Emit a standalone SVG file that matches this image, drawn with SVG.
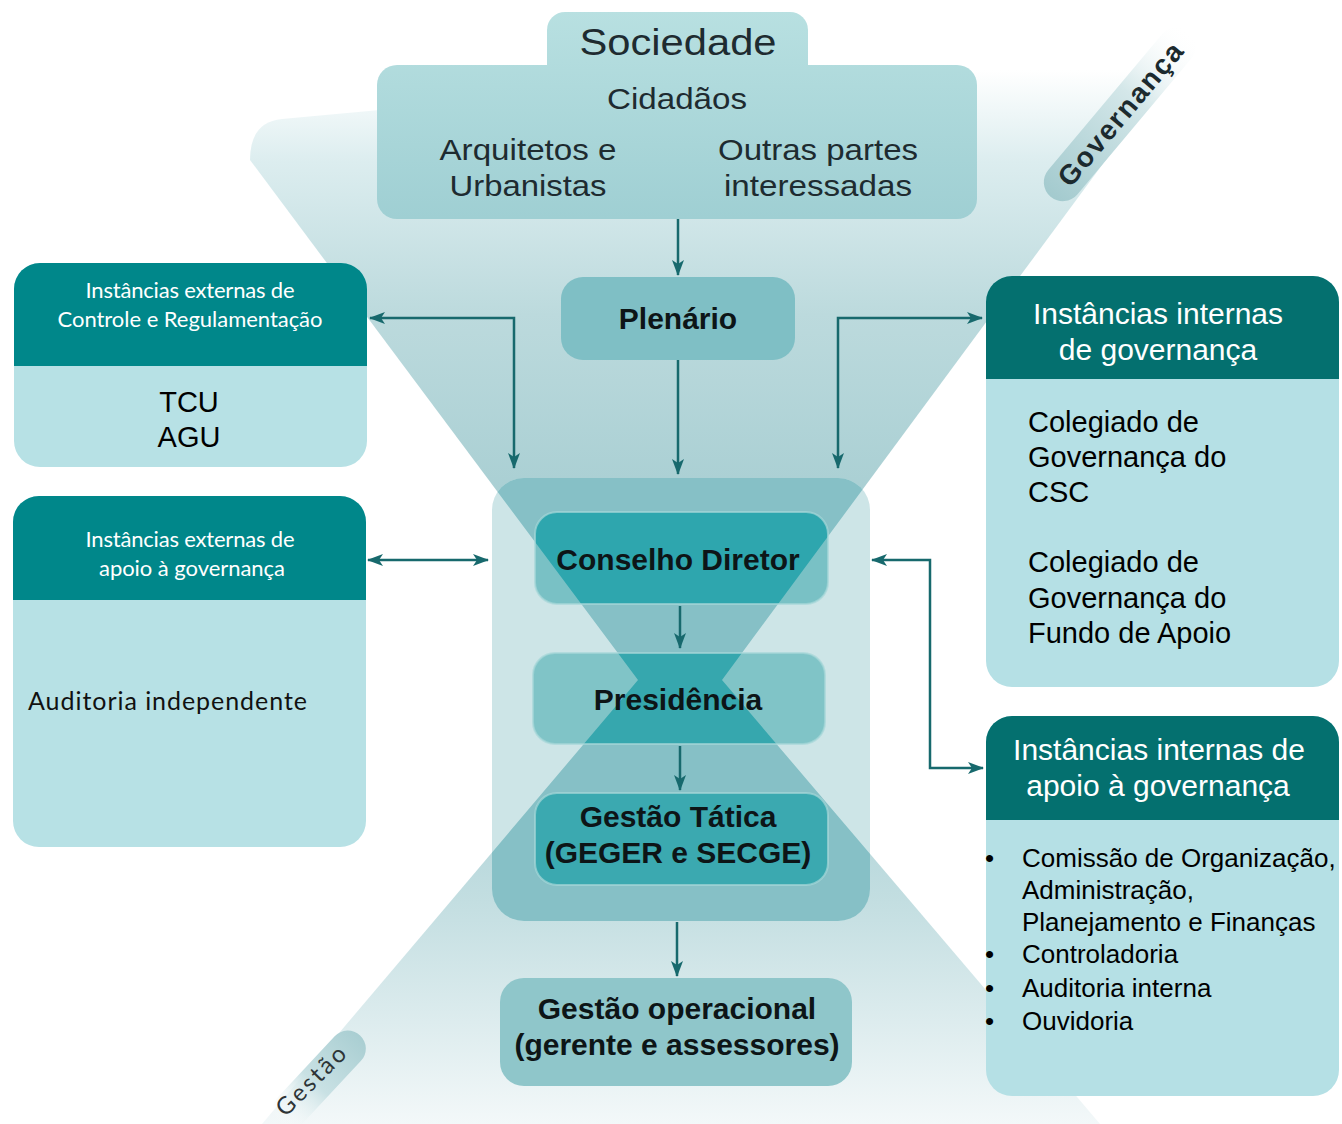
<svg xmlns="http://www.w3.org/2000/svg" width="1342" height="1124" viewBox="0 0 1342 1124">
<defs>
<style>
.hdrL{font-family:Lato,'Open Sans',sans-serif;font-size:22px;fill:#ffffff;text-anchor:middle}
.hdrR{font-family:'Liberation Sans',Arial,sans-serif;font-size:30px;fill:#ffffff;text-anchor:middle}
.body{font-family:'Liberation Sans',Arial,sans-serif;font-size:29px;fill:#000000}
.bul{font-family:'Liberation Sans',Arial,sans-serif;font-size:26px;fill:#000000}
.soc{font-family:'Liberation Sans',Arial,sans-serif;fill:#1e2b30;text-anchor:middle}
.bold{font-family:'Liberation Sans',Arial,sans-serif;font-weight:bold;font-size:30px;fill:#0d1517;text-anchor:middle}
.conn{fill:none;stroke:#17696d;stroke-width:2.5}
.inner{stroke:#a6d7d9;stroke-width:2;stroke-opacity:0.7}
</style>
<linearGradient id="gTop" gradientUnits="userSpaceOnUse" x1="0" y1="70" x2="0" y2="680">
<stop offset="0" stop-color="#ffffff"/>
<stop offset="0.15" stop-color="#dcedef"/>
<stop offset="0.4" stop-color="#bcdadd"/>
<stop offset="0.7" stop-color="#a9cfd3"/>
<stop offset="1" stop-color="#a2cbd0"/>
</linearGradient>
<linearGradient id="gBot" gradientUnits="userSpaceOnUse" x1="0" y1="680" x2="0" y2="1124">
<stop offset="0" stop-color="#9ccacf"/>
<stop offset="0.5" stop-color="#c3dee1"/>
<stop offset="1" stop-color="#f3f8f9"/>
</linearGradient>
<linearGradient id="gSoc" gradientUnits="userSpaceOnUse" x1="0" y1="12" x2="0" y2="219">
<stop offset="0" stop-color="#b8e0e1"/>
<stop offset="1" stop-color="#9fcfd3"/>
</linearGradient>
<linearGradient id="gGov" x1="0" y1="0" x2="1" y2="0">
<stop offset="0" stop-color="#a3cace"/>
<stop offset="0.6" stop-color="#d4e7e9"/>
<stop offset="1" stop-color="#ffffff" stop-opacity="0"/>
</linearGradient>
<linearGradient id="gGes" x1="0" y1="0" x2="1" y2="0">
<stop offset="0" stop-color="#ffffff" stop-opacity="0"/>
<stop offset="0.45" stop-color="#c9e1e4"/>
<stop offset="1" stop-color="#a9ced2"/>
</linearGradient>
<clipPath id="hg">
<path d="M250,160 Q250,122 282,119 L1198,35 L722,680 L638,680 Z"/>
<path d="M638,680 L722,680 L1100,1124 L262,1124 Z"/>
</clipPath>
<marker id="ah" viewBox="0 0 16 12" refX="15" refY="6" markerWidth="16" markerHeight="12" markerUnits="userSpaceOnUse" orient="auto-start-reverse">
<path d="M0,0 L16,6 L0,12 L4,6 Z" fill="#17696d"/>
</marker>
</defs>

<rect width="1342" height="1124" fill="#ffffff"/>

<g id="background">
<path id="funnel-top" d="M250,160 Q250,122 282,119 L1198,35 L722,680 L638,680 Z" fill="url(#gTop)"/>
<path id="funnel-bottom" d="M638,680 L722,680 L1100,1124 L262,1124 Z" fill="url(#gBot)"/>
</g>

<g id="label-governanca">
<g transform="translate(1120,114) rotate(-50)">
<rect x="-108" y="-19" width="216" height="38" rx="19" fill="url(#gGov)"/>
<text x="0" y="10" font-family="'Liberation Sans',Arial,sans-serif" font-weight="bold" font-size="28" fill="#1c2a2e" text-anchor="middle" textLength="178">Governança</text>
</g>
</g>

<g id="label-gestao">
<g transform="translate(326,1072) rotate(-47)">
<rect x="-70" y="-18" width="120" height="36" rx="18" fill="url(#gGes)"/>
</g>
<g transform="translate(311,1081) rotate(-45)">
<text x="0" y="8" font-family="Lato,'Open Sans',sans-serif" font-size="24" fill="#2d3436" text-anchor="middle" textLength="88">Gestão</text>
</g>
</g>

<g id="sociedade">
<rect x="547" y="12" width="261" height="80" rx="18" fill="url(#gSoc)"/>
<rect x="377" y="65" width="600" height="154" rx="20" fill="url(#gSoc)"/>
<text class="soc" x="678" y="55" font-size="36" textLength="197" lengthAdjust="spacingAndGlyphs">Sociedade</text>
<text class="soc" x="677" y="109" font-size="29" textLength="140" lengthAdjust="spacingAndGlyphs">Cidadãos</text>
<text class="soc" x="528" y="160" font-size="30" textLength="177" lengthAdjust="spacingAndGlyphs">Arquitetos e</text>
<text class="soc" x="528" y="196" font-size="30" textLength="157" lengthAdjust="spacingAndGlyphs">Urbanistas</text>
<text class="soc" x="818" y="160" font-size="30" textLength="200" lengthAdjust="spacingAndGlyphs">Outras partes</text>
<text class="soc" x="818" y="196" font-size="30" textLength="188" lengthAdjust="spacingAndGlyphs">interessadas</text>
</g>

<g id="plenario">
<rect x="561" y="277" width="234" height="83" rx="22" fill="#7fbfc5"/>
<text class="bold" x="678" y="329">Plenário</text>
</g>

<g id="bloco-central">
<rect x="492" y="478" width="378" height="443" rx="32" fill="#cde5e7"/>
<rect x="492" y="478" width="378" height="443" rx="32" fill="#86c0c6" clip-path="url(#hg)"/>
</g>

<g id="conselho-diretor">
<rect x="535" y="512" width="293" height="92" rx="22" fill="#79c1c5"/>
<rect x="535" y="512" width="293" height="92" rx="22" fill="#2ea6ae" clip-path="url(#hg)"/>
<rect class="inner" x="535" y="512" width="293" height="92" rx="22" fill="none"/>
<text class="bold" x="678" y="570">Conselho Diretor</text>
</g>

<g id="presidencia">
<rect x="533" y="653" width="292" height="91" rx="22" fill="#80c4c7"/>
<rect x="533" y="653" width="292" height="91" rx="22" fill="#36a7ae" clip-path="url(#hg)"/>
<rect class="inner" x="533" y="653" width="292" height="91" rx="22" fill="none"/>
<text class="bold" x="678" y="710">Presidência</text>
</g>

<g id="gestao-tatica">
<rect x="535" y="793" width="293" height="92" rx="22" fill="#5db5bb"/>
<rect x="535" y="793" width="293" height="92" rx="22" fill="#3ba9b0" clip-path="url(#hg)"/>
<rect class="inner" x="535" y="793" width="293" height="92" rx="22" fill="none"/>
<text class="bold" x="678" y="827">Gestão Tática</text>
<text class="bold" x="678" y="863">(GEGER e SECGE)</text>
</g>

<g id="gestao-operacional">
<rect x="500" y="978" width="352" height="108" rx="24" fill="#8fc6ca"/>
<text class="bold" x="677" y="1019">Gestão operacional</text>
<text class="bold" x="677" y="1055">(gerente e assessores)</text>
</g>

<g id="ext-controle">
<rect x="14" y="263" width="353" height="204" rx="26" fill="#b7e1e5"/>
<path d="M14,289 A26,26 0 0 1 40,263 H341 A26,26 0 0 1 367,289 V366 H14 Z" fill="#00878a"/>
<text class="hdrL" x="190" y="298" textLength="209">Instâncias externas de</text>
<text class="hdrL" x="190" y="327" textLength="265">Controle e Regulamentação</text>
<text class="body" x="189" y="412" font-size="30" text-anchor="middle">TCU</text>
<text class="body" x="189" y="447" font-size="30" text-anchor="middle">AGU</text>
</g>

<g id="ext-apoio">
<rect x="13" y="496" width="353" height="351" rx="26" fill="#b7e1e5"/>
<path d="M13,522 A26,26 0 0 1 39,496 H340 A26,26 0 0 1 366,522 V600 H13 Z" fill="#00878a"/>
<text class="hdrL" x="190" y="547" textLength="209">Instâncias externas de</text>
<text class="hdrL" x="192" y="576" textLength="186">apoio à governança</text>
<text x="28" y="710" font-family="Lato,'Open Sans',sans-serif" font-size="25" fill="#111111" textLength="279">Auditoria independente</text>
</g>

<g id="int-governanca">
<rect x="986" y="276" width="353" height="411" rx="26" fill="#b5e0e5"/>
<path d="M986,302 A26,26 0 0 1 1012,276 H1313 A26,26 0 0 1 1339,302 V379 H986 Z" fill="#04706f"/>
<text class="hdrR" x="1158" y="324">Instâncias internas</text>
<text class="hdrR" x="1158" y="360">de governança</text>
<text class="body" x="1028" y="432">Colegiado de</text>
<text class="body" x="1028" y="467">Governança do</text>
<text class="body" x="1028" y="502">CSC</text>
<text class="body" x="1028" y="572">Colegiado de</text>
<text class="body" x="1028" y="608">Governança do</text>
<text class="body" x="1028" y="643">Fundo de Apoio</text>
</g>

<g id="int-apoio">
<rect x="986" y="716" width="353" height="380" rx="26" fill="#b5e0e5"/>
<path d="M986,742 A26,26 0 0 1 1012,716 H1313 A26,26 0 0 1 1339,742 V820 H986 Z" fill="#04706f"/>
<text class="hdrR" x="1159" y="760">Instâncias internas de</text>
<text class="hdrR" x="1158" y="796">apoio à governança</text>
<text class="bul" x="985" y="867">•</text>
<text class="bul" x="1022" y="867">Comissão de Organização,</text>
<text class="bul" x="1022" y="899">Administração,</text>
<text class="bul" x="1022" y="931">Planejamento e Finanças</text>
<text class="bul" x="985" y="963">•</text>
<text class="bul" x="1022" y="963">Controladoria</text>
<text class="bul" x="985" y="997">•</text>
<text class="bul" x="1022" y="997">Auditoria interna</text>
<text class="bul" x="985" y="1030">•</text>
<text class="bul" x="1022" y="1030">Ouvidoria</text>
</g>

<g id="connectors">
<path class="conn" d="M678,219 V275" marker-end="url(#ah)"/>
<path class="conn" d="M678,360 V474" marker-end="url(#ah)"/>
<path class="conn" d="M514,468 V318 H370" marker-start="url(#ah)" marker-end="url(#ah)"/>
<path class="conn" d="M838,468 V318 H982" marker-start="url(#ah)" marker-end="url(#ah)"/>
<path class="conn" d="M368,560 H488" marker-start="url(#ah)" marker-end="url(#ah)"/>
<path class="conn" d="M872,560 H930 V768 H983" marker-start="url(#ah)" marker-end="url(#ah)"/>
<path class="conn" d="M680,606 V648" marker-end="url(#ah)"/>
<path class="conn" d="M680,746 V790" marker-end="url(#ah)"/>
<path class="conn" d="M677,922 V976" marker-end="url(#ah)"/>
</g>
</svg>
